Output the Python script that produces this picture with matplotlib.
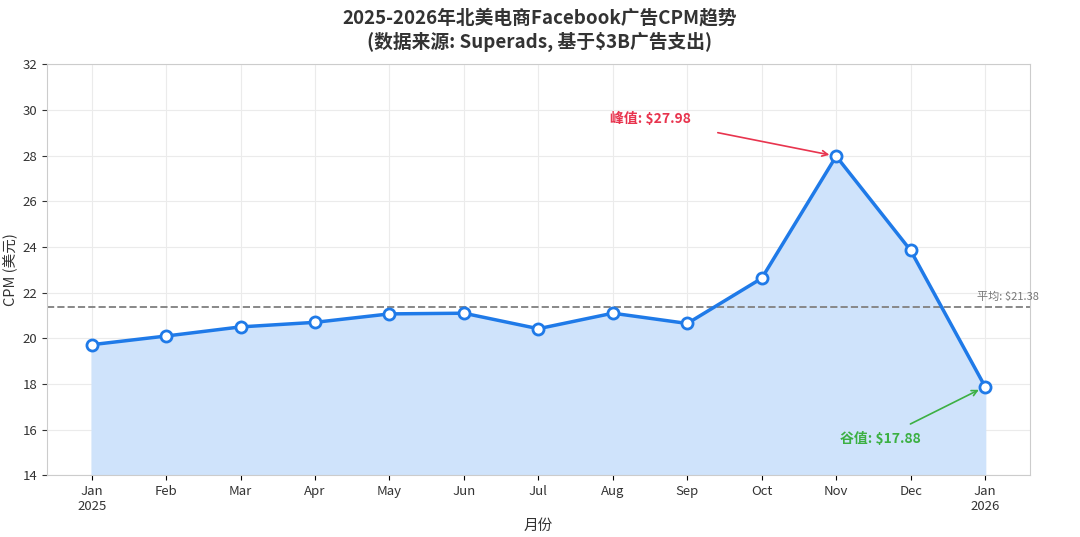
import matplotlib
matplotlib.use("Agg")
import matplotlib.pyplot as plt

plt.rcParams['font.family'] = ['Noto Sans CJK SC', 'DejaVu Sans']

months = ["Jan\n2025", "Feb", "Mar", "Apr", "May", "Jun", "Jul", "Aug", "Sep", "Oct", "Nov", "Dec", "Jan\n2026"]
cpm = [19.72, 20.10, 20.50, 20.70, 21.07, 21.10, 20.42, 21.10, 20.65, 22.63, 27.98, 23.85, 17.88]
avg = 21.38

fig = plt.figure(figsize=(10.8, 5.37), dpi=100)
ax = fig.add_axes([0.0435, 0.115, 0.91, 0.765])
x = list(range(len(months)))
ax.fill_between(x, cpm, 14, color='#cfe3fb', zorder=1)
ax.plot(x, cpm, color='#1f7ae8', lw=2.5, marker='o', ms=8, mfc='white', mec='#1f7ae8', mew=2, zorder=3)
ax.axhline(avg, color='#888888', ls='--', lw=1.4, zorder=2)
ax.text(12.3, avg + 0.2, f'平均: ${avg:.2f}', fontsize=8, color='#777777', ha='center', va='bottom')

ax.set_xlim(-0.6, 12.6)
ax.set_ylim(14, 32)
ax.set_yticks(range(14, 33, 2))
ax.set_xticks(x)
ax.set_xticklabels(months, fontsize=9.5, color='#333333')
ax.tick_params(axis='y', labelsize=9.5, colors='#333333')
ax.grid(True, color='#ebebeb', lw=0.8, zorder=0)
ax.set_axisbelow(True)
for s in ax.spines.values():
    s.set_color('#cccccc')
ax.set_xlabel('月份', fontsize=10.5, color='#333333')
ax.set_ylabel('CPM (美元)', fontsize=10.5, color='#333333')

imax = cpm.index(max(cpm)); imin = cpm.index(min(cpm))
ax.annotate(f'峰值: ${cpm[imax]:.2f}', xy=(imax, cpm[imax]), xytext=(7.5, 29.6),
            fontsize=10, fontweight='bold', color='#e8344e', ha='center', va='center',
            arrowprops=dict(arrowstyle='->', color='#e8344e', lw=1.2, shrinkA=18, shrinkB=5))
ax.annotate(f'谷值: ${cpm[imin]:.2f}', xy=(imin, cpm[imin]), xytext=(10.6, 15.6),
            fontsize=10, fontweight='bold', color='#3cb043', ha='center', va='center',
            arrowprops=dict(arrowstyle='->', color='#3cb043', lw=1.2, shrinkA=8, shrinkB=5))

fig.suptitle('2025-2026年北美电商Facebook广告CPM趋势\n(数据来源: Superads, 基于$3B广告支出)',
             fontsize=13.5, fontweight='bold', color='#333333', y=0.985, linespacing=1.3)
fig.savefig('out.png', dpi=100)
